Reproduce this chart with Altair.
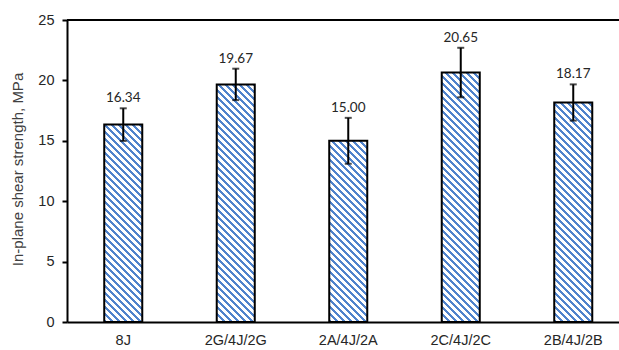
import altair as alt
import pandas as pd

# Laminate layups and their in-plane shear strength (MPa) with scatter
layups = ["8J", "2G/4J/2G", "2A/4J/2A", "2C/4J/2C", "2B/4J/2B"]
strength = [16.34, 19.67, 15.00, 20.65, 18.17]
scatter = [1.35, 1.30, 1.90, 2.05, 1.50]

df = pd.DataFrame({"layup": layups, "strength": strength, "err": scatter})
df["lo"] = df["strength"] - df["err"]
df["hi"] = df["strength"] + df["err"]
df["label"] = df["strength"].map(lambda v: f"{v:.2f}")

# geometry of the plot area
PLOT_W, PLOT_H = 552, 302
X_RANGE = 562.5
Y_MAX = 25
PAD_IN, PAD_OUT = 0.662, 0.331
BAND_W = X_RANGE / (len(layups) - PAD_IN + 2 * PAD_OUT) * (1 - PAD_IN)
PX_PER_MPA = PLOT_H / Y_MAX

BLUE = "#5083CC"
STRIPE_PERIOD = 7.0   # horizontal distance between hatch lines, px
STRIPE_FILL = 0.40    # share of each period that is blue


def hatch(value):
    """Diagonal (top-left to bottom-right) hatch as a hard-stop linear gradient."""
    w, h = BAND_W, value * PX_PER_MPA
    r = h / w
    a = (1 + r) / (1 + r * r)
    span = w + h
    stops = []
    i = 0
    while True:
        s = i * STRIPE_PERIOD / span
        if s >= 1:
            break
        e = min((i + STRIPE_FILL) * STRIPE_PERIOD / span, 1)
        n = min((i + 1) * STRIPE_PERIOD / span, 1)
        stops += [
            {"offset": s, "color": BLUE},
            {"offset": e, "color": BLUE},
            {"offset": e, "color": "white"},
            {"offset": n, "color": "white"},
        ]
        i += 1
    return {
        "gradient": "linear",
        "x1": 0, "y1": 1,
        "x2": a, "y2": 1 - r * a,
        "stops": stops,
    }


x_enc = alt.X(
    "layup:N",
    sort=layups,
    scale=alt.Scale(range=[0, X_RANGE], paddingInner=PAD_IN, paddingOuter=PAD_OUT),
    axis=alt.Axis(
        title=None, labelAngle=0, ticks=False, domainWidth=2, domainColor="black",
        labelFont="Liberation Sans", labelFontSize=14.5, labelColor="#262626",
        labelPadding=11,
    ),
)
y_scale = alt.Scale(domain=[0, Y_MAX], nice=False)

base = alt.Chart(df)

bars = [
    base.transform_filter(alt.datum.layup == name)
    .mark_bar(fill=hatch(val), stroke="black", strokeWidth=2)
    .encode(
        x=x_enc,
        y=alt.Y(
            "strength:Q",
            scale=y_scale,
            axis=alt.Axis(
                title="In-plane shear strength, MPa", values=[0, 5, 10, 15, 20, 25],
                grid=False, domainWidth=2, domainColor="black", tickColor="black",
                tickWidth=2, tickSize=5, labelPadding=8,
                labelFont="Liberation Sans", labelFontSize=14.5, labelColor="#262626",
                titleFont="Liberation Sans", titleFontSize=15, titleFontWeight="normal",
                titleColor="#404040", titleX=-50, titleY=149, titleBaseline="middle",
                titleAlign="center", titleAngle=270,
            ),
        ),
    )
    for name, val in zip(layups, strength)
]

whisker = base.mark_rule(color="black", strokeWidth=2).encode(
    x=alt.X("layup:N", sort=layups), y=alt.Y("lo:Q", scale=y_scale), y2="hi:Q"
)
cap_hi = base.mark_tick(color="black", thickness=2, size=7).encode(
    x=alt.X("layup:N", sort=layups), y=alt.Y("hi:Q", scale=y_scale)
)
cap_lo = base.mark_tick(color="black", thickness=2, size=7).encode(
    x=alt.X("layup:N", sort=layups), y=alt.Y("lo:Q", scale=y_scale)
)
values = base.mark_text(
    baseline="bottom", dy=-3, font="Lato", fontSize=13.5, color="#262626"
).encode(
    x=alt.X("layup:N", sort=layups), y=alt.Y("hi:Q", scale=y_scale), text="label:N"
)

top_frame = alt.Chart(pd.DataFrame({"y": [Y_MAX]})).mark_rule(
    color="black", strokeWidth=2
).encode(y=alt.Y("y:Q", scale=y_scale), x=alt.value(0), x2=alt.value(X_RANGE))

chart = (
    alt.layer(*bars, whisker, cap_hi, cap_lo, values, top_frame)
    .properties(
        width=PLOT_W,
        height=PLOT_H,
        autosize=alt.AutoSizeParams(type="none"),
        padding={"left": 67, "top": 20, "right": 0, "bottom": 28},
        background="white",
    )
    .configure_view(strokeWidth=0)
)

chart.save("out.html", embed_options={"renderer": "svg", "actions": False})
